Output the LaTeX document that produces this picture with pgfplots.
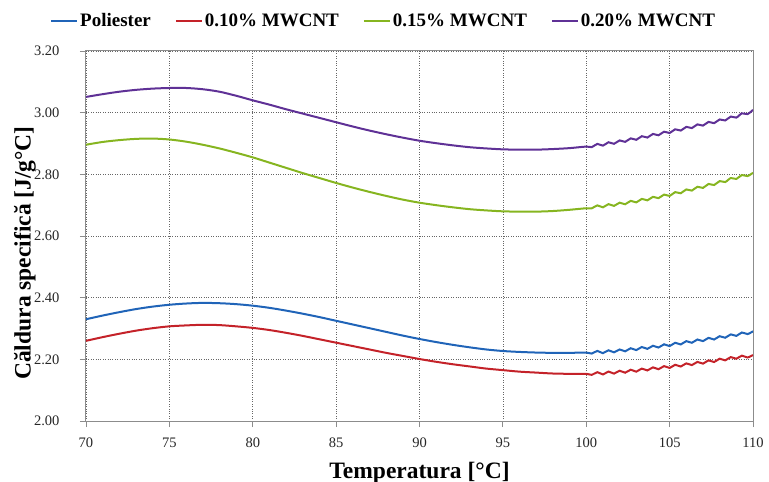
\documentclass[border=0pt]{standalone}
\usepackage{fontspec}
\setmainfont{Liberation Serif}
\usepackage{pgfplots}
\pgfplotsset{compat=1.18}
\definecolor{cblue}{HTML}{2064B8}
\definecolor{cred}{HTML}{C42229}
\definecolor{cgreen}{HTML}{86B520}
\definecolor{cpurple}{HTML}{5F3196}
\definecolor{axgray}{HTML}{8C8C8C}
\begin{document}
\begin{tikzpicture}
\begin{axis}[
  name=ax, at={(0,0)}, anchor=south west,
  scale only axis, width=667pt, height=370pt,
  xmin=70, xmax=110, ymin=2.0, ymax=3.2,
  xtick={70,75,...,110},
  ytick={2.0,2.2,...,3.21},
  grid=major,
  grid style={black!60, dotted, line width=0.7pt},
  axis line style={axgray, line width=1pt},
  tick style={axgray, line width=0.8pt},
  tick align=outside, major tick length=6pt,
  xtick pos=bottom, ytick pos=left,
  /pgf/number format/assume math mode=true,
  tick label style={font=\fontsize{14.5}{16}\selectfont, text=black!85},
  yticklabel style={/pgf/number format/.cd, fixed, fixed zerofill, precision=2, /tikz/.cd, xshift=-17pt},
  xticklabel style={yshift=-7pt},
  xlabel={\fontsize{23.5}{24}\selectfont\bfseries Temperatura [°C]},
  ylabel={\fontsize{23.5}{24}\selectfont\bfseries Căldura specifică [J/g°C]},
  xlabel style={at={(axis description cs:0.5,-0.139)}, anchor=center},
  ylabel style={at={(axis description cs:-0.0915,0.454)}, anchor=center},
  legend columns=4,
  legend style={at={(-0.054,1.082)}, anchor=west, draw=none, fill=none, inner sep=0pt,
    font=\fontsize{19}{20}\selectfont\bfseries, /tikz/every even column/.append style={column sep=22pt}},
  legend image code/.code={\draw[#1, line width=2pt] (0pt,0pt) -- (26pt,0pt);},
  legend cell align=left,
  every axis plot/.append style={line width=2pt, smooth},
]
\addplot[cblue] coordinates {
(70,2.330)(71,2.342)(72,2.353)(73,2.363)(74,2.371)(75,2.377)(76,2.381)(77,2.383)(78,2.382)(79,2.379)
(80,2.374)(81,2.367)(82,2.358)(83,2.348)(84,2.337)(85,2.325)(86,2.313)(87,2.301)(88,2.289)(89,2.277)
(90,2.266)(91,2.256)(92,2.247)(93,2.239)(94,2.232)(95,2.227)(96,2.224)(97,2.222)(98,2.221)(99,2.221)
(100,2.222)(100.333,2.2187)(100.667,2.2273)(101,2.220)(101.333,2.2293)(101.667,2.2227)(102,2.232)
(102.333,2.226)(102.667,2.236)(103,2.230)(103.333,2.240)(103.667,2.234)(104,2.244)
(104.333,2.2383)(104.667,2.2487)(105,2.243)(105.333,2.2537)(105.667,2.2483)(106,2.259)
(106.333,2.2537)(106.667,2.2643)(107,2.259)(107.333,2.2697)(107.667,2.2643)(108,2.275)
(108.333,2.270)(108.667,2.281)(109,2.276)(109.333,2.287)(109.667,2.282)(110,2.291)
};
\addlegendentry{Poliester}
\addplot[cred] coordinates {
(70,2.260)(71,2.272)(72,2.283)(73,2.293)(74,2.301)(75,2.307)(76,2.310)(77,2.312)(78,2.311)(79,2.307)
(80,2.302)(81,2.295)(82,2.286)(83,2.276)(84,2.265)(85,2.254)(86,2.243)(87,2.232)(88,2.221)(89,2.211)
(90,2.201)(91,2.192)(92,2.184)(93,2.177)(94,2.170)(95,2.165)(96,2.160)(97,2.157)(98,2.154)(99,2.153)
(100,2.153)(100.333,2.1497)(100.667,2.1583)(101,2.151)(101.333,2.1603)(101.667,2.1537)(102,2.163)
(102.333,2.1567)(102.667,2.1663)(103,2.160)(103.333,2.170)(103.667,2.164)(104,2.174)
(104.333,2.168)(104.667,2.178)(105,2.172)(105.333,2.1823)(105.667,2.1767)(106,2.187)
(106.333,2.1813)(106.667,2.1917)(107,2.186)(107.333,2.1967)(107.667,2.1913)(108,2.202)
(108.333,2.1967)(108.667,2.2073)(109,2.202)(109.333,2.212)(109.667,2.206)(110,2.214)
};
\addlegendentry{0.10\% MWCNT}
\addplot[cgreen] coordinates {
(70,2.896)(71,2.905)(72,2.911)(73,2.915)(74,2.916)(75,2.913)(76,2.906)(77,2.896)(78,2.884)(79,2.870)
(80,2.855)(81,2.838)(82,2.821)(83,2.804)(84,2.788)(85,2.772)(86,2.757)(87,2.743)(88,2.730)(89,2.718)
(90,2.708)(91,2.700)(92,2.693)(93,2.687)(94,2.683)(95,2.680)(96,2.679)(97,2.679)(98,2.681)(99,2.685)
(100,2.690)(100.333,2.6897)(100.667,2.6993)(101,2.693)(101.333,2.7033)(101.667,2.6977)(102,2.708)
(102.333,2.703)(102.667,2.714)(103,2.709)(103.333,2.7203)(103.667,2.7157)(104,2.727)
(104.333,2.7227)(104.667,2.7343)(105,2.730)(105.333,2.7423)(105.667,2.7387)(106,2.751)
(106.333,2.7473)(106.667,2.7597)(107,2.756)(107.333,2.7687)(107.667,2.7653)(108,2.778)
(108.333,2.775)(108.667,2.788)(109,2.785)(109.333,2.7977)(109.667,2.7943)(110,2.805)
};
\addlegendentry{0.15\% MWCNT}
\addplot[cpurple] coordinates {
(70,3.051)(71,3.060)(72,3.068)(73,3.074)(74,3.078)(75,3.080)(76,3.080)(77,3.076)(78,3.068)(79,3.055)
(80,3.040)(81,3.026)(82,3.011)(83,2.997)(84,2.983)(85,2.969)(86,2.955)(87,2.942)(88,2.930)(89,2.919)
(90,2.909)(91,2.901)(92,2.894)(93,2.888)(94,2.884)(95,2.881)(96,2.880)(97,2.880)(98,2.882)(99,2.885)
(100,2.890)(100.333,2.8883)(100.667,2.8987)(101,2.893)(101.333,2.904)(101.667,2.899)(102,2.910)
(102.333,2.9053)(102.667,2.9167)(103,2.912)(103.333,2.9237)(103.667,2.9193)(104,2.931)
(104.333,2.9267)(104.667,2.9383)(105,2.934)(105.333,2.946)(105.667,2.942)(106,2.954)
(106.333,2.950)(106.667,2.962)(107,2.958)(107.333,2.970)(107.667,2.966)(108,2.978)
(108.333,2.9747)(108.667,2.9873)(109,2.984)(109.333,2.9977)(109.667,2.9953)(110,3.009)
};
\addlegendentry{0.20\% MWCNT}
\end{axis}
\pgfresetboundingbox
\path[use as bounding box] (-86pt,-61pt) rectangle (683pt,421pt);
\end{tikzpicture}
\end{document}
